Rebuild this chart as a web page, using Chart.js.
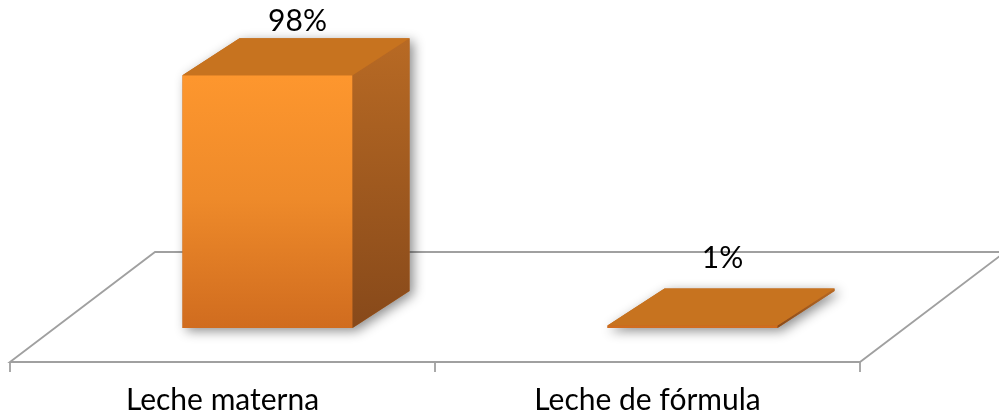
<!DOCTYPE html>
<html>
<head>
<meta charset="utf-8">
<script src="https://cdn.jsdelivr.net/npm/chart.js@4.4.1/dist/chart.umd.min.js"></script>
<style>
  html, body { margin: 0; padding: 0; background: #fff; }
  #wrap { width: 999px; height: 416px; position: relative; }
</style>
</head>
<body>
<div id="wrap"><canvas id="lecheChart"></canvas></div>
<script>
// --- datos ---
const categorias = ['Leche materna', 'Leche de fórmula'];
const porcentajes = [98, 1];
const etiquetas = ['98%', '1%'];

// profundidad 3D (pixeles)
const BAR_DX = 57, BAR_DY = 37;      // fondo de la barra
const FLOOR_DX = 145, FLOOR_DY = 110; // fondo del piso
const FRONT_DX = -45, FRONT_DY = 34;  // borde delantero del piso respecto a la base

Chart.defaults.font.family = 'Lato, "Open Sans", sans-serif';

// piso + sombras
const floorPlugin = {
    id: 'floor3d',
    beforeDatasetsDraw(chart) {
        const { ctx, scales } = chart;
        const xs = scales.x;
        const yFront = scales.y.getPixelForValue(0) + FRONT_DY;
        const xl = xs.left + FRONT_DX, xr = xs.right + FRONT_DX;
        const xm = (xs.getPixelForValue(0) + xs.getPixelForValue(1)) / 2 + FRONT_DX;

        ctx.save();
        ctx.strokeStyle = '#a0a0a0';
        ctx.lineWidth = 1.8;
        ctx.beginPath();
        ctx.moveTo(xl, yFront);
        ctx.lineTo(xl + FLOOR_DX, yFront - FLOOR_DY);
        ctx.lineTo(xr + FLOOR_DX, yFront - FLOOR_DY);
        ctx.lineTo(xr, yFront);
        ctx.closePath();
        ctx.stroke();
        // marcas del eje
        ctx.beginPath();
        [xl, xm, xr].forEach(x => { ctx.moveTo(x, yFront); ctx.lineTo(x, yFront + 10); });
        ctx.stroke();

        // sombras suaves bajo las barras
        const meta = chart.getDatasetMeta(0);
        meta.data.forEach(bar => {
            const l = bar.x - bar.width / 2, r = bar.x + bar.width / 2;
            ctx.save();
            ctx.shadowColor = 'rgba(0,0,0,0.45)';
            ctx.shadowBlur = 12;
            ctx.shadowOffsetX = 4;
            ctx.shadowOffsetY = 3;
            ctx.fillStyle = '#c06a22';
            ctx.beginPath();
            ctx.moveTo(l, bar.base);
            ctx.lineTo(r, bar.base);
            ctx.lineTo(r + BAR_DX, bar.base - BAR_DY);
            ctx.lineTo(r + BAR_DX, bar.y - BAR_DY);
            ctx.lineTo(l + BAR_DX, bar.y - BAR_DY);
            ctx.lineTo(l, bar.y);
            ctx.closePath();
            ctx.fill();
            ctx.restore();
        });
        ctx.restore();
    },
    afterDatasetsDraw(chart) {
        const { ctx } = chart;
        const meta = chart.getDatasetMeta(0);
        ctx.save();
        meta.data.forEach((bar, i) => {
            const l = bar.x - bar.width / 2, r = bar.x + bar.width / 2;
            // lado derecho
            const gSide = ctx.createLinearGradient(0, bar.y - BAR_DY, 0, bar.base);
            gSide.addColorStop(0, '#b86a24');
            gSide.addColorStop(1, '#87491a');
            ctx.fillStyle = gSide;
            ctx.beginPath();
            ctx.moveTo(r, bar.y);
            ctx.lineTo(r + BAR_DX, bar.y - BAR_DY);
            ctx.lineTo(r + BAR_DX, bar.base - BAR_DY);
            ctx.lineTo(r, bar.base);
            ctx.closePath();
            ctx.fill();
            // tapa
            ctx.fillStyle = '#c7731f';
            ctx.beginPath();
            ctx.moveTo(l, bar.y);
            ctx.lineTo(l + BAR_DX, bar.y - BAR_DY);
            ctx.lineTo(r + BAR_DX, bar.y - BAR_DY);
            ctx.lineTo(r, bar.y);
            ctx.closePath();
            ctx.fill();

            // etiqueta de valor
            ctx.fillStyle = '#000';
            ctx.font = '30px Lato, "Open Sans", sans-serif';
            ctx.textAlign = 'center';
            ctx.textBaseline = 'middle';
            ctx.fillText(etiquetas[i], bar.x + 30, Math.max(bar.y - BAR_DY - 30, 21));
        });
        ctx.restore();
    }
};

const ctx = document.getElementById('lecheChart').getContext('2d');
new Chart(ctx, {
    type: 'bar',
    data: {
        labels: categorias,
        datasets: [{
            data: porcentajes,
            backgroundColor: (c) => {
                const area = c.chart.chartArea;
                if (!area) return '#f08a2a';
                const g = c.chart.ctx.createLinearGradient(0, area.top, 0, area.bottom);
                g.addColorStop(0, '#fe972e');
                g.addColorStop(0.5, '#ee8a2a');
                g.addColorStop(1, '#d06c1f');
                return g;
            },
            borderWidth: 0,
            categoryPercentage: 1,
            barPercentage: 0.4
        }]
    },
    options: {
        responsive: true,
        maintainAspectRatio: false,
        animation: false,
        layout: { padding: { left: 55, right: 94, top: 70, bottom: 0 } },
        scales: {
            x: {
                offset: true,
                grid: { display: false, drawTicks: false },
                border: { display: false },
                ticks: {
                    color: '#000',
                    font: { size: 30 },
                    padding: 54,
                    labelOffset: FRONT_DX
                },
                afterFit: (s) => { s.height = 88; }
            },
            y: { display: false, min: 0, max: 100 }
        },
        plugins: {
            legend: { display: false },
            tooltip: { enabled: false }
        }
    },
    plugins: [floorPlugin]
});
</script>
</body>
</html>
